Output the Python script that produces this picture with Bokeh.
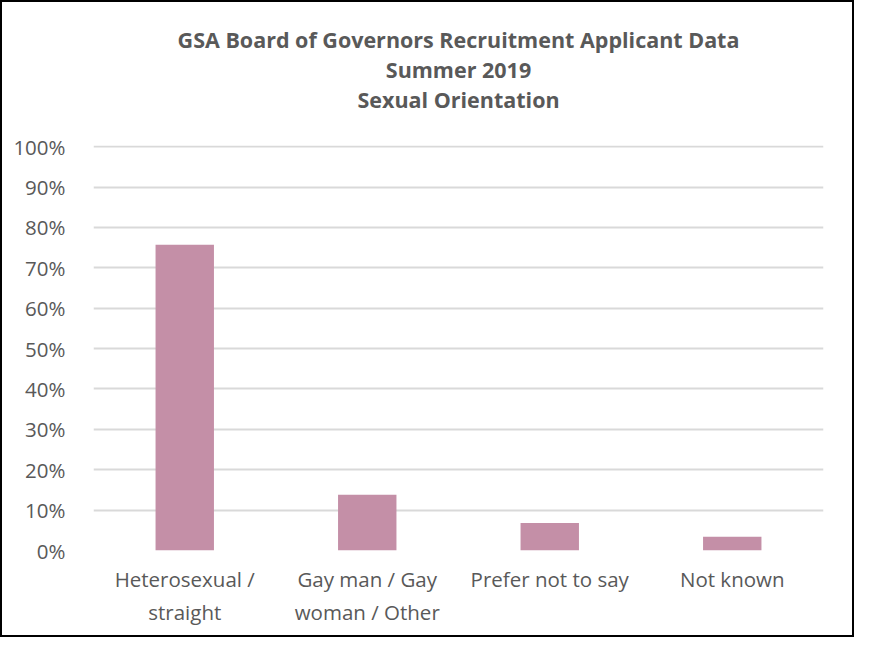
from bokeh.plotting import figure
from bokeh.models import NumeralTickFormatter, FixedTicker, Range1d, Title
from bokeh.embed import file_html
from bokeh.resources import INLINE

categories = ["Heterosexual /\nstraight", "Gay man / Gay\nwoman / Other", "Prefer not to say", "Not known"]
values = [0.757, 0.138, 0.068, 0.034]
y_ticks = [0, 0.1, 0.2, 0.3, 0.4, 0.5, 0.6, 0.7, 0.8, 0.9, 1.0]
title_lines = ["GSA Board of Governors Recruitment Applicant Data", "Summer 2019", "Sexual Orientation"]

p = figure(x_range=categories, y_range=Range1d(0, 1.003), width=854, height=637,
           output_backend="svg", toolbar_location=None,
           min_border_left=91, min_border_right=33, min_border_top=143, min_border_bottom=89)

p.vbar(x=categories, top=values, width=0.32, fill_color="#C48FA7", line_color=None)

# spacer between title block and plot frame
p.add_layout(Title(text=" ", text_font="Open Sans", text_font_size="21px", standoff=2), "above")
# stacked titles: innermost added first
for line in reversed(title_lines):
    t = Title(text=line, align="center", text_font="Open Sans", text_font_style="bold",
              text_font_size="21.5px", text_color="#595959", standoff=-1)
    p.add_layout(t, "above")

p.yaxis.ticker = FixedTicker(ticks=y_ticks)
p.yaxis.formatter = NumeralTickFormatter(format="0%")
for ax in (p.xaxis, p.yaxis):
    ax.axis_line_color = None
    ax.major_tick_line_color = None
    ax.minor_tick_line_color = None
    ax.major_label_text_font = "Open Sans"
    ax.major_label_text_font_size = "20.5px"
    ax.major_label_text_color = "#595959"
p.yaxis.major_label_standoff = 22
p.xaxis.major_label_standoff = 8

p.xgrid.grid_line_color = None
p.ygrid.grid_line_color = "#D9D9D9"
p.ygrid.grid_line_width = 2
p.ygrid.ticker = FixedTicker(ticks=y_ticks)
p.outline_line_color = None
p.x_range.range_padding = 0
p.styles = {"border": "2px solid black", "box-sizing": "border-box"}

open("out.html", "w").write(file_html(p, INLINE))
